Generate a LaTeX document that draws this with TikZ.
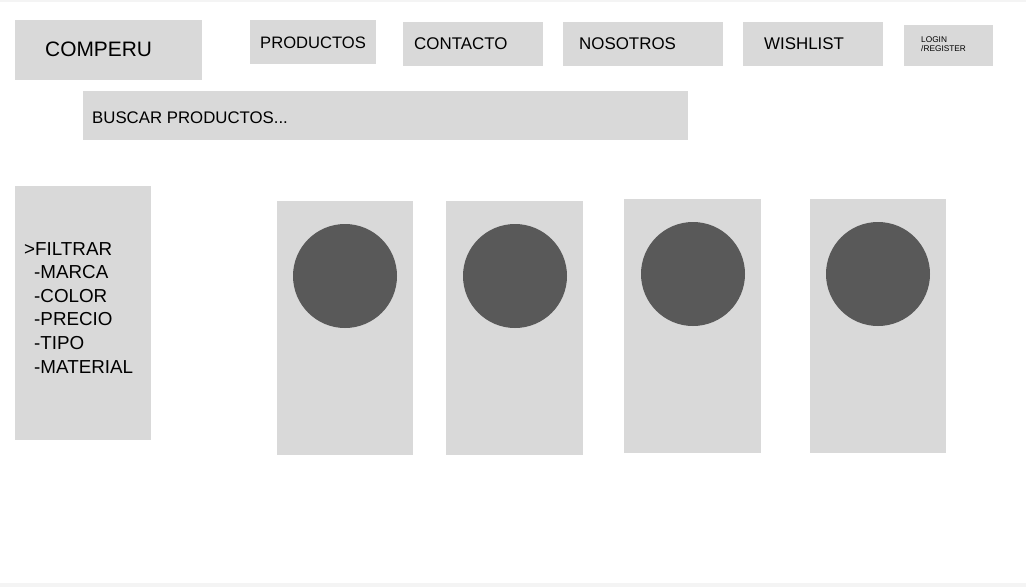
\documentclass[tikz,border=0pt]{standalone}
\usepackage{fontspec}
\setmainfont{Liberation Sans}
\definecolor{caja}{HTML}{D9D9D9}
\definecolor{foto}{HTML}{595959}
\definecolor{borde}{HTML}{F4F4F4}
\tikzset{
  cajagris/.style={fill=caja},
  texto/.style={anchor=west, inner sep=0pt, text=black},
  menu/.style={texto, font=\fontsize{16.9}{20}\selectfont},
  tarjeta/.style={fill=caja},
  circulo/.style={fill=foto}
}
\begin{document}
\begin{tikzpicture}[x=1pt, y=-1pt]
		%%%%% START %%%%%
		\useasboundingbox (0, 0) rectangle (1026, 587);
		\fill[white] (0, 0) rectangle (1026, 587);
		\fill[borde] (0, 0) rectangle (1026, 1.5);
		\fill[borde] (0, 583) rectangle (1026, 587);
		
		% cabecera
		\fill[cajagris] (15, 20) rectangle (202, 80);
		\node[texto, font=\fontsize{20.9}{24}\selectfont] (comperu) at (45, 49) {COMPERU};
		
		\fill[cajagris] (250, 20) rectangle (376, 64);
		\node[menu, font=\fontsize{16.6}{20}\selectfont] (productos) at (260, 43) {PRODUCTOS};
		
		\fill[cajagris] (403, 22) rectangle (543, 66);
		\node[menu] (contacto) at (414, 44) {CONTACTO};
		
		\fill[cajagris] (563, 22) rectangle (723, 66);
		\node[menu] (nosotros) at (579, 44) {NOSOTROS};
		
		\fill[cajagris] (743, 22) rectangle (883, 66);
		\node[menu] (wishlist) at (764, 44) {WISHLIST};
		
		\fill[cajagris] (904, 25) rectangle (993, 66);
		\node[texto, font=\fontsize{8.3}{9}\selectfont] (login) at (921, 40) {LOGIN};
		\node[texto, font=\fontsize{8.3}{9}\selectfont] (register) at (921, 49) {/REGISTER};
		
		% buscador
		\fill[cajagris] (83, 91) rectangle (688, 140);
		\node[menu, font=\fontsize{16.8}{20}\selectfont] (buscar) at (92, 118) {BUSCAR PRODUCTOS...};
		
		% filtros
		\fill[cajagris] (15, 186) rectangle (151, 440);
		\node[texto, anchor=north west, align=left, font=\fontsize{18.8}{23.6}\selectfont] (filtrar) at (24, 242)
		  {>FILTRAR\\\hspace*{10pt}-MARCA\\\hspace*{10pt}-COLOR\\\hspace*{10pt}-PRECIO\\\hspace*{10pt}-TIPO\\\hspace*{10pt}-MATERIAL};
		
		% productos
		\fill[tarjeta] (277, 201) rectangle (413, 455);
		\fill[circulo] (345, 276) circle (52);
		
		\fill[tarjeta] (446, 201) rectangle (583, 455);
		\fill[circulo] (515, 276) circle (52);
		
		\fill[tarjeta] (624, 199) rectangle (761, 453);
		\fill[circulo] (693, 274) circle (52);
		
		\fill[tarjeta] (810, 199) rectangle (946, 453);
		\fill[circulo] (878, 274) circle (52);
		
		%%%%% END %%%%%
	\end{tikzpicture}
\end{document}
